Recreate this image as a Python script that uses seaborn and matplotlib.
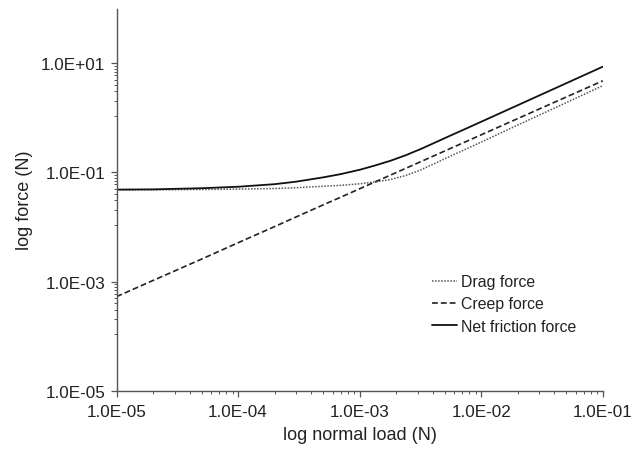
import numpy as np
import pandas as pd
import matplotlib
matplotlib.use("Agg")
import matplotlib.pyplot as plt
import matplotlib.ticker as mticker
import seaborn as sns

# values (log-log)
normal_load = [1e-5, 2e-5, 5e-5, 1e-4, 2e-4, 3e-4, 5e-4, 7e-4, 1e-3, 1.3e-3,
               1.8e-3, 2.4e-3, 3.2e-3, 4.2e-3, 5.6e-3, 7.5e-3, 1e-2, 2e-2, 5e-2, 1e-1]
drag_force = [0.048, 0.048, 0.0488, 0.0495, 0.0508, 0.0525, 0.0558, 0.058, 0.062, 0.0665,
              0.0745, 0.088, 0.112, 0.148, 0.2, 0.268, 0.36, 0.74, 1.9, 3.9]
creep_force = [5.3e-4, 1.05e-3, 2.58e-3, 5.15e-3, 0.0102, 0.0153, 0.0254, 0.0353, 0.0502, 0.0652,
               0.0898, 0.1194, 0.1585, 0.2075, 0.276, 0.368, 0.49, 0.973, 2.41, 4.78]
net_force = [0.0485, 0.049, 0.0514, 0.0547, 0.061, 0.0678, 0.0812, 0.0933, 0.112, 0.1317,
             0.1643, 0.2074, 0.2705, 0.3555, 0.476, 0.636, 0.85, 1.71, 4.31, 8.68]

x_ticks = [1e-5, 1e-4, 1e-3, 1e-2, 1e-1]
y_ticks = [1e-5, 1e-3, 1e-1, 1e1]

sns.set_style("white")
plt.rcParams['font.family'] = ['Liberation Sans', 'DejaVu Sans']

fig = plt.figure(figsize=(6.44, 4.52), dpi=100)
ax = fig.add_axes([0.181, 0.1334, 0.755, 0.845])

df = pd.DataFrame({'load': normal_load, 'drag': drag_force,
                   'creep': creep_force, 'net': net_force})

sns.lineplot(data=df, x='load', y='drag', ax=ax, color='#555555', lw=1.1,
             linestyle=(0, (1, 1)), label='Drag force')
sns.lineplot(data=df, x='load', y='creep', ax=ax, color='#222222', lw=1.2,
             linestyle=(0, (3.5, 1.8)), label='Creep force')
sns.lineplot(data=df, x='load', y='net', ax=ax, color='#111111', lw=1.3,
             linestyle='-', label='Net friction force')

ax.set_xscale('log')
ax.set_yscale('log')
ax.set_xlim(1e-5, 1e-1)
ax.set_ylim(1e-5, 1e2)

ax.xaxis.set_major_locator(mticker.FixedLocator(x_ticks))
ax.xaxis.set_minor_locator(mticker.LogLocator(base=10, subs=np.arange(2, 10)))
ax.yaxis.set_major_locator(mticker.FixedLocator(y_ticks))
# excel-style minor ticks between the 2-decade majors
y_minor = []
for a, b in zip(y_ticks[:-1], y_ticks[1:]):
    y_minor += [a + k * (b - a) / 10 for k in range(1, 10)]
ax.yaxis.set_minor_locator(mticker.FixedLocator(y_minor))
ax.xaxis.set_minor_formatter(mticker.NullFormatter())
ax.yaxis.set_minor_formatter(mticker.NullFormatter())

fmt = mticker.FuncFormatter(lambda v, p: '%.1E' % v)
ax.xaxis.set_major_formatter(fmt)
ax.yaxis.set_major_formatter(fmt)

for side in ['top', 'right']:
    ax.spines[side].set_visible(False)
for side in ['left', 'bottom']:
    ax.spines[side].set_color('#555555')
    ax.spines[side].set_linewidth(1.0)

ax.tick_params(which='major', direction='out', length=4, width=0.9, color='#555555',
               labelsize=12.3, labelcolor='#222222', pad=4,
               bottom=True, left=True)
ax.tick_params(axis='x', which='major', pad=5.5)
ax.tick_params(which='minor', direction='out', length=2.5, width=0.7, color='#555555',
               bottom=True, left=True)

ax.set_xlabel('log normal load (N)', fontsize=13, color='#222222', labelpad=5)
ax.set_ylabel('log force (N)', fontsize=13, color='#222222', labelpad=6)

leg = ax.legend(loc='upper left', bbox_to_anchor=(0.619, 0.342), frameon=False,
                fontsize=11.4, handlelength=1.6, handletextpad=0.25, labelspacing=0.45)
for t in leg.get_texts():
    t.set_color('#222222')

fig.savefig('out.png', dpi=100)
